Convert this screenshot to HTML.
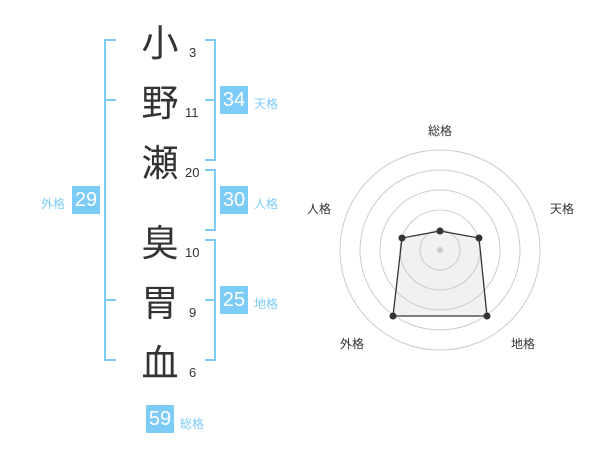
<!DOCTYPE html>
<html><head><meta charset="utf-8"><style>
body{margin:0;width:600px;height:470px;background:#fff;overflow:hidden;position:relative;font-family:"Liberation Sans","Noto Sans CJK JP",sans-serif}
.c{position:absolute;font-size:37px;color:#333;width:40px;text-align:center;line-height:40px}
.n{position:absolute;font-size:13px;color:#333}
.b{position:absolute;background:#7dcbf7;color:#fff;font-size:20px;width:28px;height:28px;line-height:29px;text-align:center}
.l{position:absolute;font-size:12px;color:#7dcbf7}
.r{position:absolute;font-size:12px;color:#333}
</style></head><body>
<svg width="600" height="470" style="position:absolute;left:0;top:0">
<g stroke="#7dcbf7" stroke-width="2" fill="none">
<path d="M116,40H105V360H116M105,100H116M105,300H116"/>
<path d="M205,40H215V160H205M205,100H215"/>
<path d="M205,170H215V230H205"/>
<path d="M205,240H215V360H205M205,300H215"/>
</g>
<g stroke="#ccc" fill="none">
<circle cx="440" cy="250" r="20"/><circle cx="440" cy="250" r="40"/><circle cx="440" cy="250" r="60"/><circle cx="440" cy="250" r="80"/><circle cx="440" cy="250" r="100"/>
</g>
<polygon points="440,231 479,238 487,316 393,316 402,238" fill="rgba(200,200,200,0.25)" stroke="#333" stroke-width="1.3"/>
<circle cx="440" cy="250" r="3" fill="#ccc"/>
<g fill="#333"><circle cx="440" cy="231" r="3.5"/><circle cx="479" cy="238" r="3.5"/><circle cx="487" cy="316" r="3.5"/><circle cx="393" cy="316" r="3.5"/><circle cx="402" cy="238" r="3.5"/></g>
</svg>
<div class="c" style="left:140px;top:24px">小</div>
<div class="c" style="left:140px;top:84px">野</div>
<div class="c" style="left:140px;top:144px">瀬</div>
<div class="c" style="left:140px;top:224px">臭</div>
<div class="c" style="left:140px;top:284px">胃</div>
<div class="c" style="left:140px;top:344px">血</div>
<div class="n" style="left:189px;top:45px">3</div>
<div class="n" style="left:185px;top:105px">11</div>
<div class="n" style="left:185px;top:165px">20</div>
<div class="n" style="left:185px;top:245px">10</div>
<div class="n" style="left:189px;top:305px">9</div>
<div class="n" style="left:189px;top:365px">6</div>
<div class="b" style="left:220px;top:86px">34</div><div class="l" style="left:254px;top:95px">天格</div>
<div class="b" style="left:220px;top:186px">30</div><div class="l" style="left:254px;top:195px">人格</div>
<div class="b" style="left:220px;top:286px">25</div><div class="l" style="left:254px;top:295px">地格</div>
<div class="b" style="left:72px;top:186px">29</div><div class="l" style="left:41px;top:195px">外格</div>
<div class="b" style="left:146px;top:405px">59</div><div class="l" style="left:180px;top:415px">総格</div>
<div class="r" style="left:428px;top:122px">総格</div>
<div class="r" style="left:550px;top:200px">天格</div>
<div class="r" style="left:307px;top:200px">人格</div>
<div class="r" style="left:511px;top:335px">地格</div>
<div class="r" style="left:340px;top:335px">外格</div>
</body></html>
